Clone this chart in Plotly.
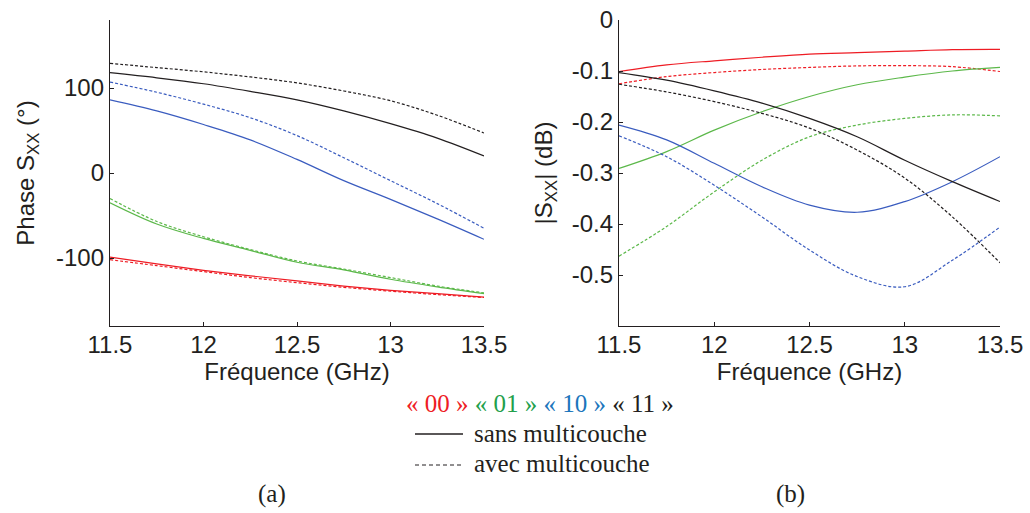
import plotly.graph_objects as go

freq = [11.5, 11.75, 12.0, 12.25, 12.5, 12.75, 13.0, 13.25, 13.5]

# Phase S_XX (degrees)
phase_00_sans = [-99, -107, -114.5, -121, -127, -133, -138, -142, -146]
phase_00_avec = [-102, -109, -116, -123, -129, -134.5, -139, -143, -146.5]
phase_01_sans = [-35, -60, -77, -91, -105, -114, -125, -134, -142]
phase_01_avec = [-30, -57, -75, -90, -103.5, -113, -123, -133, -141]
phase_10_sans = [86, 73, 57, 39, 16, -9, -31, -54, -78]
phase_10_avec = [107, 95, 81, 65, 44, 18, -9, -36, -65]
phase_11_sans = [118, 112, 105, 96, 86, 73, 58, 41, 20]
phase_11_avec = [129, 124, 119, 113, 106, 96.5, 85, 68, 47]

# |S_XX| (dB)
mag_00_sans = [-0.101, -0.088, -0.080, -0.073, -0.067, -0.064, -0.061, -0.058, -0.0575]
mag_00_avec = [-0.125, -0.111, -0.103, -0.097, -0.093, -0.090, -0.0895, -0.0915, -0.101]
mag_01_sans = [-0.291, -0.258, -0.216, -0.180, -0.150, -0.127, -0.112, -0.100, -0.093]
mag_01_avec = [-0.463, -0.405, -0.337, -0.275, -0.229, -0.206, -0.193, -0.186, -0.188]
mag_10_sans = [-0.206, -0.235, -0.281, -0.327, -0.363, -0.377, -0.356, -0.317, -0.268]
mag_10_avec = [-0.227, -0.268, -0.324, -0.386, -0.451, -0.503, -0.523, -0.471, -0.406]
mag_11_sans = [-0.103, -0.118, -0.139, -0.163, -0.193, -0.229, -0.275, -0.317, -0.356]
mag_11_avec = [-0.126, -0.141, -0.160, -0.183, -0.212, -0.255, -0.310, -0.386, -0.476]

states = ["« 00 »", "« 01 »", "« 10 »", "« 11 »"]
line_colors = ["#ee1c24", "#5cb84a", "#3a5cbf", "#231f20"]
label_colors = ["#ee1c24", "#22a04b", "#1b75bc", "#231f20"]
x_ticks = [11.5, 12, 12.5, 13, 13.5]
x_labels = ["11.5", "12", "12.5", "13", "13.5"]
phase_ticks = [-100, 0, 100]
phase_labels = ["-100", "0", "100"]
mag_ticks = [-0.5, -0.4, -0.3, -0.2, -0.1, 0]
mag_labels = ["-0.5", "-0.4", "-0.3", "-0.2", "-0.1", "0"]

phase_series = [(phase_00_sans, phase_00_avec), (phase_01_sans, phase_01_avec),
                (phase_10_sans, phase_10_avec), (phase_11_sans, phase_11_avec)]
mag_series = [(mag_00_sans, mag_00_avec), (mag_01_sans, mag_01_avec),
              (mag_10_sans, mag_10_avec), (mag_11_sans, mag_11_avec)]

fig = go.Figure()
for i, (s, a) in enumerate(phase_series):
    fig.add_trace(go.Scatter(x=freq, y=s, mode="lines", xaxis="x", yaxis="y",
                             line=dict(color=line_colors[i], width=1.2, shape="spline"),
                             showlegend=False))
    fig.add_trace(go.Scatter(x=freq, y=a, mode="lines", xaxis="x", yaxis="y",
                             line=dict(color=line_colors[i], width=1.2, shape="spline", dash="3px,2px"),
                             showlegend=False))
for i, (s, a) in enumerate(mag_series):
    fig.add_trace(go.Scatter(x=freq, y=s, mode="lines", xaxis="x2", yaxis="y2",
                             line=dict(color=line_colors[i], width=1.2, shape="spline"),
                             showlegend=False))
    fig.add_trace(go.Scatter(x=freq, y=a, mode="lines", xaxis="x2", yaxis="y2",
                             line=dict(color=line_colors[i], width=1.2, shape="spline", dash="3px,2px"),
                             showlegend=False))

sans = "Liberation Sans, Arial"
tickfont = dict(family=sans, size=24, color="#231f20")
titlefont = dict(family=sans, size=24, color="#231f20")
ax_common = dict(showgrid=False, zeroline=False, showline=True, linecolor="#231f20",
                 linewidth=1.3, ticks="inside", ticklen=4, tickcolor="#231f20",
                 tickfont=tickfont, mirror=False, automargin=False)

top = 1 - 20 / 513
bot = 1 - 326 / 513
fig.update_layout(
    width=1030, height=513,
    margin=dict(l=0, r=0, t=0, b=0),
    paper_bgcolor="white", plot_bgcolor="white",
    xaxis=dict(domain=[110 / 1030, 484 / 1030], range=[11.5, 13.5], tickvals=x_ticks,
               ticktext=x_labels, anchor="y", ticklabelstandoff=-3,
               title=dict(text="Fréquence (GHz)", font=titlefont, standoff=0), **ax_common),
    yaxis=dict(domain=[bot, top], range=[-180, 180], tickvals=phase_ticks, ticktext=phase_labels,
               anchor="x",
               title=dict(text="Phase S<sub>XX</sub> (°)", font=titlefont, standoff=14), **ax_common),
    xaxis2=dict(domain=[619 / 1030, 1000 / 1030], range=[11.5, 13.5], tickvals=x_ticks,
                ticktext=x_labels, anchor="y2", ticklabelstandoff=-3,
                title=dict(text="Fréquence (GHz)", font=titlefont, standoff=0), **ax_common),
    yaxis2=dict(domain=[bot, top], range=[-0.6, 0], tickvals=mag_ticks, ticktext=mag_labels,
                anchor="x2",
                title=dict(text="|S<sub>XX</sub>| (dB)", font=titlefont, standoff=12), **ax_common),
)

# Colour legend line
serif = "Liberation Serif, Times New Roman"
legend_text = " ".join(
    f"<span style='color:{c}'>{s}</span>" for s, c in zip(states, label_colors))
fig.add_annotation(x=540 / 1030, y=1 - 403 / 513, xref="paper", yref="paper",
                   text=legend_text, showarrow=False, xanchor="center", yanchor="middle",
                   font=dict(family=serif, size=25, color="#231f20"))

# Line-style legend
fig.add_shape(type="line", xref="paper", yref="paper",
              x0=415 / 1030, x1=463 / 1030, y0=1 - 434 / 513, y1=1 - 434 / 513,
              line=dict(color="#231f20", width=1.6))
fig.add_shape(type="line", xref="paper", yref="paper",
              x0=415 / 1030, x1=463 / 1030, y0=1 - 465 / 513, y1=1 - 465 / 513,
              line=dict(color="#231f20", width=1, dash="4px,3px"))
fig.add_annotation(x=472 / 1030, y=1 - 433 / 513, xref="paper", yref="paper",
                   text="sans multicouche", showarrow=False, xanchor="left", yanchor="middle",
                   font=dict(family=serif, size=25, color="#231f20"))
fig.add_annotation(x=472 / 1030, y=1 - 463 / 513, xref="paper", yref="paper",
                   text="avec multicouche", showarrow=False, xanchor="left", yanchor="middle",
                   font=dict(family=serif, size=25, color="#231f20"))

# Panel labels
fig.add_annotation(x=272 / 1030, y=1 - 494 / 513, xref="paper", yref="paper",
                   text="(a)", showarrow=False, xanchor="center", yanchor="middle",
                   font=dict(family=serif, size=25, color="#231f20"))
fig.add_annotation(x=790 / 1030, y=1 - 494 / 513, xref="paper", yref="paper",
                   text="(b)", showarrow=False, xanchor="center", yanchor="middle",
                   font=dict(family=serif, size=25, color="#231f20"))

fig.write_html("out.html", config={"displayModeBar": False},
               post_script="document.body.style.margin='0';document.body.style.overflow='hidden';")
